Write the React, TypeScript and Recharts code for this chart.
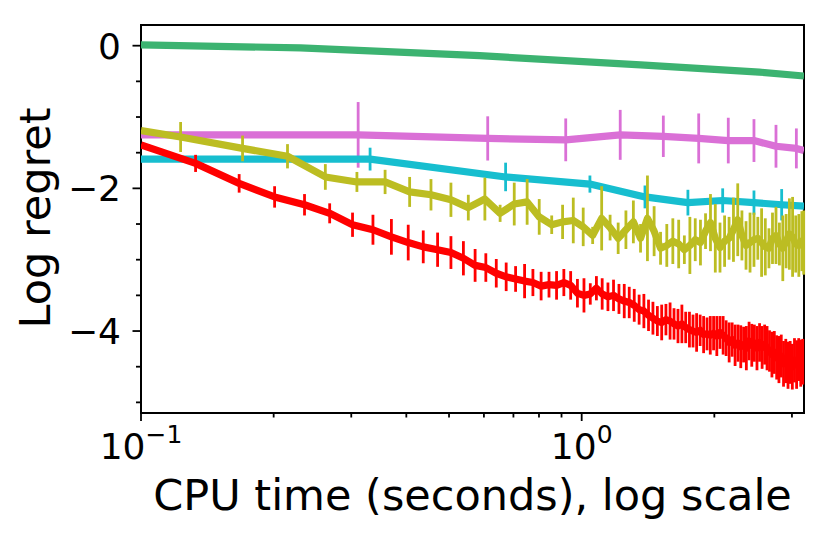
import React from 'react';
import { ComposedChart, Line, XAxis, YAxis, ErrorBar, ReferenceArea } from 'recharts';

const FONT = '"DejaVu Sans", "Liberation Sans", sans-serif';

// ---- axis ticks ----
const xTicks = [0.1, 0.2, 0.3, 0.4, 0.5, 0.6, 0.7, 0.8, 0.9, 1, 2, 3];
const xMajorTicks = [0.1, 1];
const xMajorExponents = ['−1', '0'];
const yTicks = [-5, -4.5, -4, -3.5, -3, -2.5, -2, -1.5, -1, -0.5, 0];
const yMajorTicks = [0, -2, -4];
const yMajorLabels = ['0', '−2', '−4'];

// ---- green series ----
const greenTime = [0.1, 0.23, 0.587, 1.36, 2.53, 3.195];
const greenValue = [0.01, -0.03, -0.14, -0.27, -0.37, -0.425];

// ---- orchid series ----
const orchidTime = [0.1, 0.311, 0.612, 0.92, 1.223, 1.532, 1.843, 2.151, 2.46, 2.76, 3.07, 3.195];
const orchidValue = [-1.25, -1.25, -1.3, -1.32, -1.25, -1.27, -1.3, -1.33, -1.33, -1.41, -1.44, -1.47];
const orchidErr = [0, 0.46, 0.31, 0.3, 0.35, 0.29, 0.35, 0.32, 0.3, 0.3, 0.28, 0];

// ---- cyan series ----
const cyanTime = [0.1, 0.331, 0.672, 1.044, 1.392, 1.742, 2.089, 2.46, 2.843, 3.195];
const cyanValue = [-1.59, -1.59, -1.84, -1.94, -2.12, -2.2, -2.17, -2.2, -2.23, -2.25];
const cyanErr = [0, 0.16, 0.2, 0.12, 0.16, 0.18, 0.17, 0.17, 0.22, 0];

// ---- olive series ----
const oliveTime = [
  0.1, 0.123, 0.17, 0.215, 0.262, 0.309, 0.358, 0.407, 0.455, 0.505, 0.553, 0.603, 0.653, 0.703,
  0.752, 0.801, 0.855, 0.905, 0.957, 1.008, 1.059, 1.11, 1.16, 1.21, 1.26, 1.31, 1.36, 1.41, 1.46,
  1.51, 1.56, 1.61, 1.66, 1.71, 1.76, 1.81, 1.86, 1.91, 1.96, 2.01, 2.06, 2.11, 2.16, 2.21, 2.26,
  2.31, 2.36, 2.41, 2.46, 2.51, 2.56, 2.61, 2.66, 2.71, 2.76, 2.81, 2.86, 2.91, 2.96, 3.01, 3.06,
  3.11, 3.16, 3.19,
];
const oliveValue = [
  -1.19, -1.28, -1.44, -1.55, -1.84, -1.91, -1.91, -2.05, -2.09, -2.16, -2.27, -2.15, -2.35, -2.22,
  -2.19, -2.4, -2.51, -2.47, -2.45, -2.54, -2.66, -2.42, -2.55, -2.7, -2.58, -2.47, -2.7, -2.42,
  -2.6, -2.84, -2.8, -2.74, -2.78, -2.86, -2.8, -2.72, -2.76, -2.6, -2.48, -2.7, -2.83, -2.74, -2.7,
  -2.58, -2.44, -2.66, -2.8, -2.76, -2.72, -2.7, -2.76, -2.82, -2.84, -2.7, -2.66, -2.78, -2.84,
  -2.74, -2.64, -2.68, -2.78, -2.8, -2.74, -2.76,
];
const oliveErr = [
  0, 0.21, 0.18, 0.17, 0.18, 0.14, 0.17, 0.21, 0.22, 0.24, 0.18, 0.3, 0.12, 0.3, 0.32, 0.25, 0.13,
  0.24, 0.32, 0.27, 0.12, 0.45, 0.18, 0.22, 0.27, 0.3, 0.2, 0.6, 0.35, 0.23, 0.3, 0.32, 0.34, 0.2,
  0.4, 0.3, 0.32, 0.25, 0.4, 0.48, 0.35, 0.36, 0.3, 0.45, 0.51, 0.35, 0.34, 0.42, 0.38, 0.3, 0.48,
  0.4, 0.28, 0.36, 0.4, 0.3, 0.46, 0.38, 0.5, 0.56, 0.4, 0.44, 0.42, 0.45,
];

// ---- red series ----
const redTime = [
  0.1, 0.133, 0.167, 0.201, 0.235, 0.268, 0.302, 0.336, 0.37, 0.404, 0.437, 0.471, 0.505, 0.539,
  0.573, 0.606, 0.64, 0.674, 0.708, 0.742, 0.775, 0.809, 0.843, 0.877, 0.911, 0.944, 0.978, 1.012,
  1.046, 1.08, 1.113, 1.147, 1.181, 1.215, 1.249, 1.282, 1.316, 1.35, 1.384, 1.418, 1.451, 1.485,
  1.519, 1.553, 1.587, 1.62, 1.654, 1.688, 1.722, 1.756, 1.789, 1.823, 1.857, 1.891, 1.925, 1.958,
  1.992, 2.026, 2.06, 2.094, 2.127, 2.161, 2.195, 2.229, 2.263, 2.296, 2.33, 2.364, 2.398, 2.432,
  2.465, 2.499, 2.533, 2.567, 2.601, 2.634, 2.668, 2.702, 2.736, 2.77, 2.803, 2.837, 2.871, 2.905,
  2.939, 2.972, 3.006, 3.04, 3.074, 3.108, 3.141, 3.175,
];
const redValue = [
  -1.39, -1.65, -1.93, -2.12, -2.23, -2.35, -2.51, -2.58, -2.68, -2.76, -2.82, -2.86, -2.9, -2.98,
  -3.08, -3.11, -3.19, -3.24, -3.27, -3.3, -3.32, -3.37, -3.35, -3.36, -3.32, -3.36, -3.47, -3.5,
  -3.48, -3.4, -3.48, -3.52, -3.5, -3.55, -3.58, -3.6, -3.64, -3.7, -3.72, -3.78, -3.82, -3.86,
  -3.88, -3.84, -3.86, -3.9, -3.93, -3.9, -3.95, -3.98, -4.0, -4.02, -3.99, -4.05, -4.04, -4.06,
  -4.03, -4.07, -4.02, -4.06, -4.1, -4.16, -4.12, -4.2, -4.17, -4.22, -4.19, -4.24, -4.14, -4.2,
  -4.17, -4.24, -4.16, -4.23, -4.19, -4.24, -4.28, -4.33, -4.3, -4.37, -4.4, -4.35, -4.46, -4.42,
  -4.48, -4.44, -4.5, -4.41, -4.47, -4.4, -4.45, -4.43,
];
const redErr = [
  0, 0.12, 0.13, 0.15, 0.15, 0.14, 0.17, 0.21, 0.25, 0.25, 0.23, 0.24, 0.23, 0.24, 0.23, 0.2, 0.2,
  0.2, 0.18, 0.24, 0.19, 0.2, 0.18, 0.2, 0.19, 0.2, 0.2, 0.24, 0.15, 0.17, 0.22, 0.2, 0.22, 0.21,
  0.24, 0.22, 0.23, 0.21, 0.24, 0.22, 0.23, 0.21, 0.25, 0.22, 0.26, 0.22, 0.24, 0.27, 0.22, 0.25,
  0.23, 0.27, 0.22, 0.26, 0.23, 0.27, 0.24, 0.28, 0.23, 0.27, 0.25, 0.28, 0.24, 0.29, 0.26, 0.3,
  0.25, 0.31, 0.27, 0.3, 0.26, 0.31, 0.27, 0.3, 0.28, 0.31, 0.29, 0.32, 0.3, 0.31, 0.33, 0.3, 0.32,
  0.31, 0.33, 0.3, 0.32, 0.31, 0.34, 0.3, 0.33, 0.32,
];

const rows = (t: number[], v: number[], e?: number[]) =>
  t.map((tt, i) => ({ t: tt, v: v[i], e: e ? e[i] : 0 }));

const greenData = rows(greenTime, greenValue);
const orchidData = rows(orchidTime, orchidValue, orchidErr);
const cyanData = rows(cyanTime, cyanValue, cyanErr);
const oliveData = rows(oliveTime, oliveValue, oliveErr);
const redData = rows(redTime, redValue, redErr);

const X_DOMAIN: [number, number] = [0.1, 3.195];
const Y_DOMAIN: [number, number] = [-5.149, 0.29];

const XTick = (props: any) => {
  const { x, y, payload } = props;
  const v = payload.value;
  const mi = xMajorTicks.findIndex((m) => Math.abs(m - v) < 1e-9);
  const major = mi >= 0;
  return (
    <g>
      <line x1={x} x2={x} y1={y} y2={y + (major ? 8 : 4.5)} stroke="#000" strokeWidth={1.8} />
      {major && (
        <text x={x} y={y + 46} textAnchor="middle" fontFamily={FONT} fontSize={36} fill="#000">
          <tspan>10</tspan>
          <tspan dy={-16} fontSize={25}>
            {xMajorExponents[mi]}
          </tspan>
        </text>
      )}
    </g>
  );
};

const YTick = (props: any) => {
  const { x, y, payload } = props;
  const v = payload.value;
  const mi = yMajorTicks.findIndex((m) => Math.abs(m - v) < 1e-9);
  const major = mi >= 0;
  return (
    <g>
      <line x1={x} x2={x - (major ? 8.5 : 5)} y1={y} y2={y} stroke="#000" strokeWidth={1.8} />
      {major && (
        <text x={x - 20} y={y + 13} textAnchor="end" fontFamily={FONT} fontSize={36} fill="#000">
          {yMajorLabels[mi]}
        </text>
      )}
    </g>
  );
};

const LW = 7.2;
const EW = 2.8;

export default function App() {
  return (
    <div style={{ position: 'absolute', left: 0, top: 0, width: 830, height: 536, background: '#fff' }}>
      <ComposedChart width={830} height={536} margin={{ top: 25, right: 26, bottom: 0, left: 0 }}>
        <XAxis
          type="number"
          dataKey="t"
          scale="log"
          domain={X_DOMAIN}
          allowDataOverflow
          ticks={xTicks}
          interval={0}
          tick={<XTick />}
          tickLine={false}
          tickSize={0}
          tickMargin={0}
          axisLine={false}
          height={123}
        />
        <YAxis
          type="number"
          dataKey="v"
          domain={Y_DOMAIN}
          allowDataOverflow
          ticks={yTicks}
          interval={0}
          tick={<YTick />}
          tickLine={false}
          tickSize={0}
          tickMargin={0}
          axisLine={false}
          width={141}
        />
        <Line data={greenData} dataKey="v" type="linear" stroke="#3cb371" strokeWidth={LW} dot={false} isAnimationActive={false} strokeLinejoin="round" />
        <Line data={orchidData} dataKey="v" type="linear" stroke="#da70d6" strokeWidth={LW} dot={false} isAnimationActive={false} strokeLinejoin="round">
          <ErrorBar dataKey="e" direction="y" width={0} stroke="#da70d6" strokeWidth={EW} isAnimationActive={false} />
        </Line>
        <Line data={cyanData} dataKey="v" type="linear" stroke="#17becf" strokeWidth={LW} dot={false} isAnimationActive={false} strokeLinejoin="round">
          <ErrorBar dataKey="e" direction="y" width={0} stroke="#17becf" strokeWidth={EW} isAnimationActive={false} />
        </Line>
        <Line data={oliveData} dataKey="v" type="linear" stroke="#bcbd22" strokeWidth={LW} dot={false} isAnimationActive={false} strokeLinejoin="round">
          <ErrorBar dataKey="e" direction="y" width={0} stroke="#bcbd22" strokeWidth={EW} isAnimationActive={false} />
        </Line>
        <Line data={redData} dataKey="v" type="linear" stroke="#ff0000" strokeWidth={LW} dot={false} isAnimationActive={false} strokeLinejoin="round">
          <ErrorBar dataKey="e" direction="y" width={0} stroke="#ff0000" strokeWidth={EW} isAnimationActive={false} />
        </Line>
        <ReferenceArea
          x1={X_DOMAIN[0]}
          x2={X_DOMAIN[1]}
          y1={Y_DOMAIN[0]}
          y2={Y_DOMAIN[1]}
          fill="none"
          fillOpacity={0}
          stroke="#000"
          strokeWidth={2}
          ifOverflow="visible"
        />
        <text x={472.5} y={510} textAnchor="middle" fontFamily={FONT} fontSize={43} fill="#000">
          CPU time (seconds), log scale
        </text>
        <text
          x={50}
          y={218}
          textAnchor="middle"
          fontFamily={FONT}
          fontSize={43}
          fill="#000"
          transform="rotate(-90, 50, 218)"
        >
          Log regret
        </text>
      </ComposedChart>
    </div>
  );
}
